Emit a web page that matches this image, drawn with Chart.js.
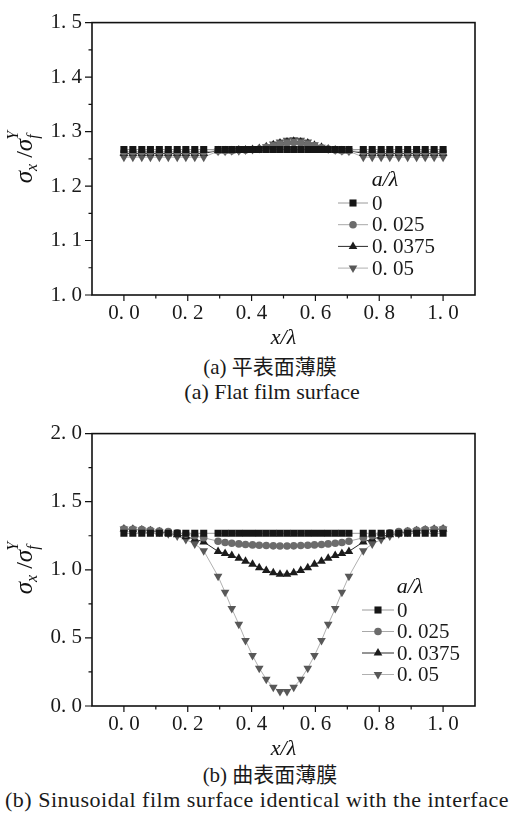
<!DOCTYPE html>
<html>
<head>
<meta charset="utf-8">
<script src="https://cdn.jsdelivr.net/npm/chart.js@4/dist/chart.umd.min.js"></script>
<style>
  body { margin: 0; background: #fff; width: 510px; height: 814px; position: relative; overflow: hidden; }
  .box { position: absolute; left: 0; width: 510px; }
  .cap { position: absolute; width: 510px; text-align: center; white-space: nowrap;
         font-family: "Liberation Serif", "Noto Sans CJK SC", serif; font-size: 22px; line-height: 24px; color: #1a1a1a; }
</style>
</head>
<body>
<div class="box" style="top:0;height:351px"><canvas id="chartA" width="510" height="351"></canvas></div>
<div class="cap" style="top:355px;left:15px;font-size:21px">(a) 平表面薄膜</div>
<div class="cap" style="top:380px;left:17px">(a) Flat film surface</div>
<div class="box" style="top:411px;height:351px"><canvas id="chartB" width="510" height="351"></canvas></div>
<div class="cap" style="top:763px;left:15px;font-size:21px">(b) 曲表面薄膜</div>
<div class="cap" style="top:788px;left:2px;letter-spacing:0.5px">(b) Sinusoidal film surface identical with the interface</div>

<script>
// x/λ positions of the nodes (same for every curve)
const xPos = [
  0, 0.028, 0.056, 0.083, 0.111, 0.139, 0.167, 0.194, 0.222, 0.25,
  0.295, 0.317, 0.338, 0.36, 0.381, 0.403, 0.424, 0.446, 0.468, 0.489,
  0.511, 0.532, 0.554, 0.576, 0.597, 0.619, 0.64, 0.662, 0.683, 0.705,
  0.75, 0.778, 0.806, 0.833, 0.861, 0.889, 0.917, 0.944, 0.972, 1
];

const seriesLabels = ['0', '0.025', '0.0375', '0.05'];

// (a) flat film surface
const flat0 = [
  1.267, 1.267, 1.267, 1.267, 1.267, 1.267, 1.267, 1.267, 1.267, 1.267,
  1.267, 1.267, 1.267, 1.267, 1.267, 1.267, 1.267, 1.267, 1.267, 1.267,
  1.267, 1.267, 1.267, 1.267, 1.267, 1.267, 1.267, 1.267, 1.267, 1.267,
  1.267, 1.267, 1.267, 1.267, 1.267, 1.267, 1.267, 1.267, 1.267, 1.267
];
const flat025 = [
  1.263, 1.263, 1.263, 1.263, 1.263, 1.263, 1.263, 1.263, 1.263, 1.263,
  1.265, 1.265, 1.265, 1.266, 1.266, 1.267, 1.268, 1.271, 1.274, 1.277,
  1.279, 1.28, 1.279, 1.277, 1.274, 1.27, 1.268, 1.266, 1.265, 1.265,
  1.263, 1.263, 1.263, 1.263, 1.263, 1.263, 1.263, 1.263, 1.263, 1.263
];
const flat0375 = [
  1.26, 1.26, 1.26, 1.26, 1.26, 1.26, 1.26, 1.26, 1.26, 1.26,
  1.265, 1.265, 1.265, 1.266, 1.266, 1.267, 1.269, 1.272, 1.276, 1.279,
  1.281, 1.282, 1.281, 1.279, 1.275, 1.271, 1.268, 1.266, 1.265, 1.265,
  1.26, 1.26, 1.26, 1.26, 1.26, 1.26, 1.26, 1.26, 1.26, 1.26
];
const flat05 = [
  1.253, 1.253, 1.253, 1.253, 1.253, 1.253, 1.253, 1.253, 1.253, 1.253,
  1.264, 1.264, 1.265, 1.265, 1.266, 1.267, 1.269, 1.272, 1.277, 1.281,
  1.284, 1.285, 1.284, 1.281, 1.276, 1.271, 1.268, 1.266, 1.265, 1.264,
  1.253, 1.253, 1.253, 1.253, 1.253, 1.253, 1.253, 1.253, 1.253, 1.253
];

// (b) sinusoidal film surface
const sine0 = [
  1.268, 1.268, 1.268, 1.268, 1.268, 1.268, 1.268, 1.268, 1.268, 1.268,
  1.268, 1.268, 1.268, 1.268, 1.268, 1.268, 1.268, 1.268, 1.268, 1.268,
  1.268, 1.268, 1.268, 1.268, 1.268, 1.268, 1.268, 1.268, 1.268, 1.268,
  1.268, 1.268, 1.268, 1.268, 1.268, 1.268, 1.268, 1.268, 1.268, 1.268
];
const sine025 = [
  1.3, 1.298, 1.295, 1.29, 1.285, 1.28, 1.272, 1.262, 1.25, 1.235,
  1.21, 1.2, 1.195, 1.19, 1.186, 1.183, 1.18, 1.178, 1.176, 1.175,
  1.175, 1.176, 1.178, 1.18, 1.183, 1.186, 1.19, 1.195, 1.2, 1.21,
  1.235, 1.25, 1.262, 1.272, 1.28, 1.285, 1.29, 1.295, 1.298, 1.3
];
const sine0375 = [
  1.3, 1.297, 1.293, 1.287, 1.28, 1.27, 1.258, 1.243, 1.225, 1.205,
  1.135, 1.12, 1.105, 1.085, 1.063, 1.04, 1.015, 0.995, 0.978, 0.968,
  0.968, 0.978, 0.995, 1.015, 1.04, 1.063, 1.085, 1.105, 1.12, 1.135,
  1.205, 1.225, 1.243, 1.258, 1.27, 1.28, 1.287, 1.293, 1.297, 1.3
];
const sine05 = [
  1.3, 1.297, 1.292, 1.285, 1.277, 1.265, 1.248, 1.222, 1.19, 1.14,
  0.952, 0.835, 0.715, 0.6, 0.481, 0.37, 0.278, 0.196, 0.138, 0.107,
  0.107, 0.138, 0.196, 0.278, 0.37, 0.481, 0.6, 0.715, 0.835, 0.952,
  1.14, 1.19, 1.222, 1.248, 1.265, 1.277, 1.285, 1.292, 1.297, 1.3
];

const SERIF = '"Liberation Serif", "DejaVu Serif", serif';

// marker / line look of the four curves
const looks = [
  { pointStyle: 'rect',     rotation: 0,   radius: 5,   fill: '#161616', line: '#9a9a9a' },
  { pointStyle: 'circle',   rotation: 0,   radius: 3.8, fill: '#6c6c6c', line: '#a8a8a8' },
  { pointStyle: 'triangle', rotation: 0,   radius: 5,   fill: '#1c1c1c', line: '#2a2a2a' },
  { pointStyle: 'triangle', rotation: 180, radius: 5,   fill: '#585858', line: '#b0b0b0' },
];

const spaced = s => s.replace('.', '. ');

function makeDatasets(series) {
  return series.map((ys, i) => ({
    label: seriesLabels[i],
    data: xPos.map((x, j) => ({ x, y: ys[j] })),
    showLine: true,
    borderColor: looks[i].line,
    borderWidth: 1,
    pointStyle: looks[i].pointStyle,
    pointRotation: looks[i].rotation,
    pointRadius: looks[i].radius,
    pointBackgroundColor: looks[i].fill,
    pointBorderColor: looks[i].fill,
    pointBorderWidth: 0,
    tension: 0,
  }));
}

// frame, tick marks, y title, legend
const decor = {
  id: 'decor',
  afterDraw(chart, args, opts) {
    const { ctx, chartArea: a, scales: { x, y } } = chart;
    ctx.save();
    ctx.strokeStyle = '#111';
    ctx.lineWidth = 1.6;
    ctx.strokeRect(a.left, a.top, a.right - a.left, a.bottom - a.top);

    ctx.lineWidth = 1.2;
    ctx.beginPath();
    x.ticks.forEach(t => {
      if (t.value < -1e-6 || t.value > 1 + 1e-6) return;
      const px = x.getPixelForValue(t.value);
      const len = t.label ? 6 : 3.5;
      ctx.moveTo(px, a.bottom); ctx.lineTo(px, a.bottom + len);
    });
    y.ticks.forEach(t => {
      const py = y.getPixelForValue(t.value);
      const len = t.label ? 7 : 3.5;
      ctx.moveTo(a.left, py); ctx.lineTo(a.left - len, py);
    });
    ctx.stroke();

    // y title  σx / σf^Y
    const cy = (a.top + a.bottom) / 2;
    ctx.translate(32, cy);
    ctx.rotate(-Math.PI / 2);
    ctx.fillStyle = '#111';
    ctx.textBaseline = 'alphabetic';
    const big = 'italic 25px ' + SERIF, small = 'italic 16px ' + SERIF;
    const parts = [
      { t: 'σ', f: big, dy: 0 }, { t: 'x', f: small, dy: 5 },
      { t: ' /', f: '24px ' + SERIF, dy: 0 },
      { t: 'σ', f: big, dy: 0 }, { t: 'f', f: small, dy: 6 },
    ];
    let w = 0;
    parts.forEach(p => { ctx.font = p.f; p.w = ctx.measureText(p.t).width; w += p.w; });
    let cx = -w / 2;
    parts.forEach(p => { ctx.font = p.f; ctx.fillText(p.t, cx, p.dy); cx += p.w; });
    ctx.font = small;
    ctx.fillText('Y', cx - parts[4].w - 1, -14);
    ctx.setTransform(1, 0, 0, 1, 0, 0);

    // legend
    const L = opts;
    ctx.fillStyle = '#111';
    ctx.font = 'italic 22px ' + SERIF;
    ctx.textAlign = 'center';
    ctx.textBaseline = 'middle';
    ctx.fillText('a/λ', L.titleX, L.titleY);
    ctx.textAlign = 'left';
    ctx.font = '21px ' + SERIF;
    seriesLabels.forEach((lab, i) => {
      const ry = L.rowY + i * L.gap;
      const lk = looks[i];
      ctx.strokeStyle = lk.line;
      ctx.lineWidth = 1;
      ctx.beginPath();
      ctx.moveTo(L.markX - L.half, ry); ctx.lineTo(L.markX + L.half, ry);
      ctx.stroke();
      ctx.fillStyle = lk.fill;
      Chart.helpers.drawPoint(ctx, { pointStyle: lk.pointStyle, rotation: lk.rotation, radius: lk.radius, borderWidth: 0 }, L.markX, ry);
      ctx.fillStyle = '#1a1a1a';
      ctx.fillText(spaced(lab), L.textX, ry + 1);
    });
    ctx.restore();
  }
};

function buildChart(id, series, yMin, yMax, yMinor, yMajor, legend) {
  const isMajor = (v, step) => Math.abs(v / step - Math.round(v / step)) < 1e-6;
  return new Chart(document.getElementById(id), {
    type: 'line',
    data: { datasets: makeDatasets(series) },
    plugins: [decor],
    options: {
      responsive: false,
      animation: false,
      layout: { padding: { top: 12, right: 35, left: 0, bottom: 0 } },
      plugins: { legend: { display: false }, tooltip: { enabled: false }, decor: legend },
      scales: {
        x: {
          type: 'linear', min: -0.1, max: 1.1,
          grid: { display: false, drawTicks: false },
          border: { display: false },
          afterFit: s => { s.height = 56; },
          ticks: {
            stepSize: 0.1, autoSkip: false, maxRotation: 0, padding: 6, color: '#1a1a1a',
            font: { family: SERIF, size: 21 },
            callback: v => (v > -1e-6 && v < 1 + 1e-6 && isMajor(v, 0.2)) ? spaced(v.toFixed(1)) : '',
          },
          title: { display: true, text: 'x/λ', color: '#111', padding: 0,
                   font: { family: SERIF, size: 22, style: 'italic' } },
        },
        y: {
          min: yMin, max: yMax,
          grid: { display: false, drawTicks: false },
          border: { display: false },
          afterFit: s => { s.width = 92; },
          ticks: {
            stepSize: yMinor, autoSkip: false, padding: 10, color: '#1a1a1a',
            font: { family: SERIF, size: 21 },
            callback: v => isMajor(v, yMajor) ? spaced(v.toFixed(1)) : '',
          },
        },
      },
    },
  });
}

buildChart('chartA', [flat0, flat025, flat0375, flat05], 1.0, 1.5, 0.05, 0.1,
  { titleX: 385, titleY: 180, rowY: 203, gap: 21.7, markX: 353, half: 15, textX: 372 });
buildChart('chartB', [sine0, sine025, sine0375, sine05], 0, 2.0, 0.25, 0.5,
  { titleX: 410, titleY: 176, rowY: 199, gap: 21.5, markX: 378, half: 16, textX: 397 });
</script>
</body>
</html>
